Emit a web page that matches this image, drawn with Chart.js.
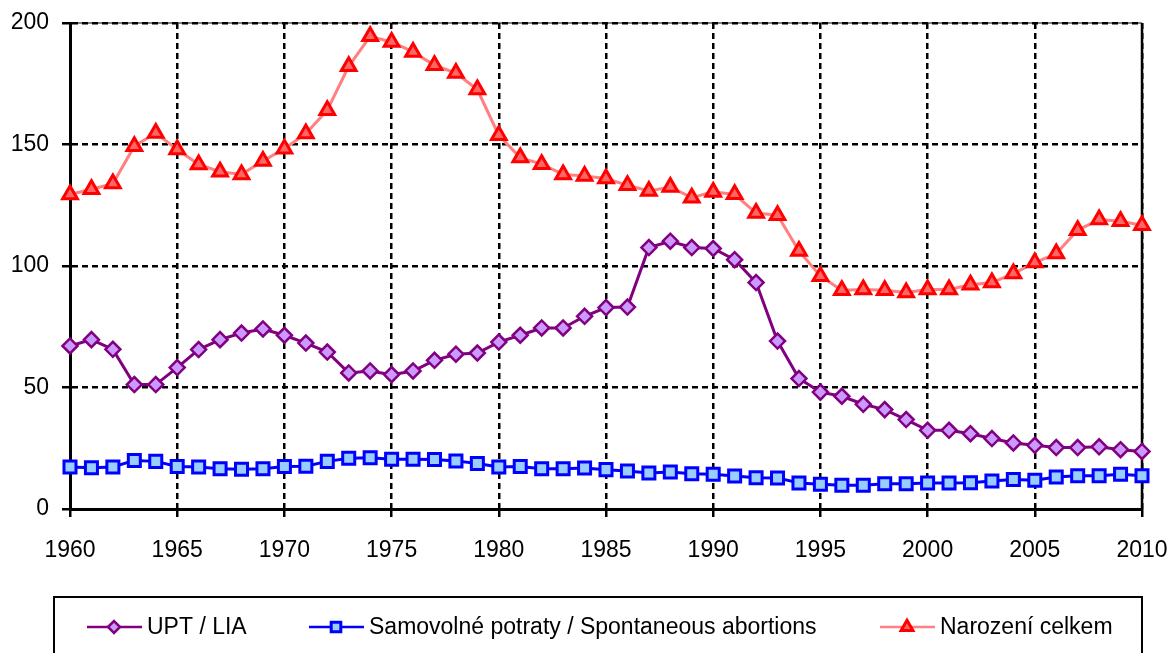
<!DOCTYPE html>
<html>
<head>
<meta charset="utf-8">
<script src="https://cdn.jsdelivr.net/npm/chart.js@4/dist/chart.umd.min.js"></script>
<style>
html, body { margin: 0; padding: 0; background: #fff; }
#wrap { width: 1172px; height: 653px; }
</style>
</head>
<body>
<div id="wrap"><canvas id="c"></canvas></div>
<script>
const years = [1960, 1961, 1962, 1963, 1964, 1965, 1966, 1967, 1968, 1969,
  1970, 1971, 1972, 1973, 1974, 1975, 1976, 1977, 1978, 1979,
  1980, 1981, 1982, 1983, 1984, 1985, 1986, 1987, 1988, 1989,
  1990, 1991, 1992, 1993, 1994, 1995, 1996, 1997, 1998, 1999,
  2000, 2001, 2002, 2003, 2004, 2005, 2006, 2007, 2008, 2009, 2010];

// UPT / LIA
const upt = [67.1, 69.7, 65.7, 51.2, 51.2, 58.2, 65.6, 69.7, 72.4, 74.1,
  71.5, 68.3, 64.6, 56.0, 56.8, 55.3, 56.8, 61.2, 63.7, 64.2,
  68.7, 71.5, 74.5, 74.5, 79.3, 82.9, 83.1, 107.6, 110.2, 107.6,
  107.2, 102.6, 93.2, 69.1, 53.7, 48.1, 46.4, 43.1, 40.9, 36.8,
  32.4, 32.4, 31.0, 29.0, 27.2, 26.2, 25.3, 25.3, 25.6, 24.4, 23.7];

// Samovolné potraty
const spontaneous = [17.3, 17.0, 17.3, 20.0, 19.6, 17.5, 17.3, 16.6, 16.4, 16.6,
  17.5, 17.6, 19.6, 20.9, 21.1, 20.5, 20.5, 20.4, 19.8, 18.7,
  17.3, 17.5, 16.6, 16.6, 16.9, 16.2, 15.6, 14.8, 15.2, 14.5,
  14.3, 13.6, 12.9, 12.8, 10.7, 10.2, 9.8, 9.8, 10.4, 10.4,
  10.7, 10.7, 10.8, 11.5, 12.1, 11.8, 13.2, 13.7, 13.7, 14.3, 13.7];

// Narození celkem
const births = [129.4, 131.6, 133.9, 149.3, 154.7, 147.9, 141.8, 138.8, 137.7, 143.2,
  148.3, 154.5, 164.1, 182.2, 194.5, 192.2, 188.1, 182.6, 179.4, 172.6,
  153.8, 144.6, 141.9, 137.7, 137.0, 136.0, 133.2, 130.9, 132.5, 128.1,
  130.5, 129.5, 121.8, 120.9, 106.2, 95.8, 90.0, 90.3, 90.0, 89.1,
  90.3, 90.3, 92.3, 93.2, 96.9, 101.4, 105.1, 114.7, 119.1, 118.4, 116.8];

const labels = ['UPT / LIA', 'Samovolné potraty / Spontaneous abortions', 'Narození celkem'];

const FONT = '"Liberation Sans", Arial, sans-serif';

function points(values) {
  return years.map((yr, i) => ({ x: yr, y: values[i] }));
}

// plot frame: gray top line, solid right border
const frame = {
  id: 'frame',
  beforeDraw(chart) {
    const { ctx, chartArea: a } = chart;
    ctx.save();
    ctx.fillStyle = '#fff';
    ctx.fillRect(0, 0, chart.width, chart.height);
    ctx.strokeStyle = '#808080';
    ctx.lineWidth = 2;
    ctx.beginPath();
    ctx.moveTo(a.left, a.top);
    ctx.lineTo(a.right, a.top);
    ctx.stroke();
    ctx.restore();
  },
  beforeDatasetsDraw(chart) {
    const { ctx, chartArea: a } = chart;
    ctx.save();
    ctx.strokeStyle = '#000';
    ctx.lineWidth = 2.5;
    ctx.beginPath();
    ctx.moveTo(a.right, a.top);
    ctx.lineTo(a.right, a.bottom);
    ctx.stroke();
    ctx.restore();
  }
};

// boxed legend under the axis
const legendBox = {
  id: 'legendBox',
  afterDraw(chart) {
    const ctx = chart.ctx;
    const xs = [87, 309, 880];
    const y = 627;
    ctx.save();
    ctx.strokeStyle = '#000';
    ctx.lineWidth = 2;
    ctx.strokeRect(54, 597, 1088, 100);
    chart.data.datasets.forEach((ds, i) => {
      const x = xs[i];
      ctx.strokeStyle = ds.borderColor;
      ctx.lineWidth = 2.5;
      ctx.beginPath();
      ctx.moveTo(x, y);
      ctx.lineTo(x + 55, y);
      ctx.stroke();
      ctx.fillStyle = ds.pointBackgroundColor;
      ctx.strokeStyle = ds.pointBorderColor;
      ctx.lineWidth = ds.pointBorderWidth;
      Chart.helpers.drawPoint(ctx, { pointStyle: ds.pointStyle, radius: ds.pointRadius * 0.8, borderWidth: ds.pointBorderWidth }, x + 27, y);
      ctx.fillStyle = '#000';
      ctx.font = '23px ' + FONT;
      ctx.textBaseline = 'middle';
      ctx.fillText(ds.label, x + 60, y + 1);
    });
    ctx.restore();
  }
};

const gridOpts = {
  color: '#000',
  lineWidth: 2.5,
  drawTicks: true,
  tickLength: 8,
  tickColor: '#000',
  tickWidth: 2.5,
  tickBorderDash: []
};

new Chart(document.getElementById('c'), {
  type: 'line',
  data: {
    datasets: [{
      label: labels[0],
      data: points(upt),
      borderColor: '#800080',
      borderWidth: 3,
      pointStyle: 'rectRot',
      pointRadius: 7.5,
      pointBackgroundColor: '#cc99ff',
      pointBorderColor: '#800080',
      pointBorderWidth: 2.5,
      tension: 0,
      clip: false
    }, {
      label: labels[1],
      data: points(spontaneous),
      borderColor: '#0000ff',
      borderWidth: 3,
      pointStyle: 'rect',
      pointRadius: 8.5,
      pointBackgroundColor: '#99ccff',
      pointBorderColor: '#0000ff',
      pointBorderWidth: 3,
      tension: 0,
      clip: false
    }, {
      label: labels[2],
      data: points(births),
      borderColor: '#ff8080',
      borderWidth: 3,
      pointStyle: 'triangle',
      pointRadius: 8.5,
      pointBackgroundColor: '#ff6666',
      pointBorderColor: '#ff0000',
      pointBorderWidth: 3,
      tension: 0,
      clip: false
    }]
  },
  options: {
    responsive: true,
    maintainAspectRatio: false,
    animation: false,
    events: [],
    layout: { padding: { top: 23, right: 30, left: 0, bottom: 0 } },
    plugins: {
      legend: { display: false },
      tooltip: { enabled: false }
    },
    scales: {
      x: {
        type: 'linear',
        min: 1960,
        max: 2010,
        ticks: {
          stepSize: 5,
          autoSkip: false,
          maxRotation: 0,
          padding: 20,
          color: '#000',
          font: { family: FONT, size: 23 },
          callback: v => String(v)
        },
        grid: gridOpts,
        border: { display: true, color: '#000', width: 3, dash: [6, 4] },
        afterFit: s => { s.height = 144; s.paddingLeft = 0; s.paddingRight = 0; }
      },
      y: {
        min: 0,
        max: 200,
        ticks: {
          stepSize: 50,
          padding: 13,
          color: '#000',
          font: { family: FONT, size: 23 }
        },
        grid: gridOpts,
        border: { display: true, color: '#000', width: 3, dash: [6, 4] },
        afterFit: s => { s.width = 70; s.paddingTop = 0; s.paddingBottom = 0; }
      }
    }
  },
  plugins: [frame, legendBox]
});
</script>
</body>
</html>
